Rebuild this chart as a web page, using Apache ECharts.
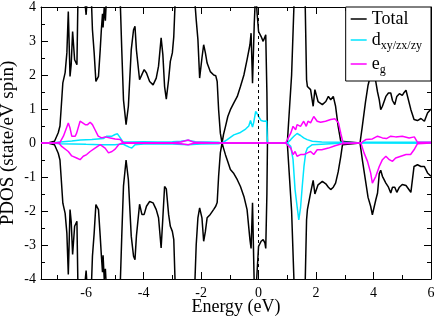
<!DOCTYPE html>
<html><head><meta charset="utf-8">
<script src="https://cdn.jsdelivr.net/npm/echarts@6/dist/echarts.min.js"></script>
<style>html,body{margin:0;padding:0;background:#fff}#c{width:436px;height:319px}</style>
</head><body><div id="c"></div>
<script>
// Energy grid for Total (spin up / spin down)
const totalE = [
 -7.57,-7.3,-7.1,-6.97,-6.91,-6.87,-6.81,-6.73,-6.67,-6.62,
 -6.56,-6.52,-6.47,-6.40,-6.32,-6.28,-6.15,-6.05,-6.0,-5.95,
 -5.85,-5.78,-5.72,-5.66,-5.57,-5.51,-5.47,-5.43,-5.41,-5.37,
 -5.33,-5.28,-5.1,-4.9,-4.81,-4.76,-4.7,-4.61,-4.53,-4.43,
 -4.35,-4.3,-4.25,-4.14,-4.06,-3.98,-3.9,-3.79,-3.67,-3.56,
 -3.48,-3.39,-3.33,-3.27,-3.21,-3.13,-3.07,-3.0,-2.95,-2.9,
 -2.7,-2.4,-2.22,-2.17,-2.11,-2.05,-1.97,-1.91,-1.85,-1.79,
 -1.68,-1.56,-1.49,-1.44,-1.39,-1.33,-1.27,-1.22,-1.15,-1.07,
 -0.98,-0.86,-0.74,-0.63,-0.51,-0.4,-0.3,-0.26,-0.21,-0.15,
 -0.1,-0.05,0.0,0.09,0.16,0.22,0.25,0.29,0.31,1.0,
 1.05,1.15,1.25,1.4,1.55,1.62,1.67,1.7,1.81,1.9,
 1.96,2.07,2.22,2.34,2.43,2.51,2.6,2.68,2.77,2.86,
 2.92,3.53,3.61,3.72,3.81,3.9,3.96,4.08,4.14,4.2,
 4.25,4.31,4.43,4.52,4.6,4.66,4.74,4.81,4.9,5.0,
 5.05,5.13,5.3,5.41,5.53,5.65,5.77,5.88,6.0
];
const totalUp = [
 0,0.01,0.05,0.3,0.5,1.0,1.77,2.07,2.65,3.87,
 1.96,2.3,3.28,2.45,2.3,4.5,5.5,4.2,3.77,4.4,
 5.0,3.33,2.65,1.81,1.96,2.74,3.33,3.8,3.4,4.0,
 3.6,4.5,5.5,5.0,4.1,2.74,1.27,0.54,1.08,2.74,
 3.33,3.43,2.74,1.86,2.01,2.16,2.06,1.81,1.71,1.91,
 2.26,3.09,2.6,1.66,1.29,1.86,2.4,2.65,3.13,4.2,
 5.5,5.5,4.2,3.63,3.04,1.91,2.5,2.89,2.65,2.35,
 2.1,2.0,1.98,1.81,0.98,0.29,0,0.25,0.49,0.78,
 0.98,1.18,1.37,1.66,2.0,2.45,2.89,3.23,1.76,3.5,
 4.5,3.8,3.28,3.13,2.99,2.94,3.18,1.5,0,0,
 0.05,2.0,4.5,6,5,4.2,1.86,1.66,1.57,1.08,
 1.57,1.22,1.13,1.22,1.37,1.27,1.37,1.08,0.49,0.05,
 0,0,0.49,1.2,1.7,2.0,2.3,1.8,1.5,1.27,
 0.98,1.08,1.37,1.47,1.47,1.25,1.13,1.37,1.45,1.4,
 1.47,1.55,0.98,0.69,0.66,0.72,0.64,0.88,1.0
];
const totalDown = [
 0,-0.01,-0.05,-0.3,-0.5,-1.0,-1.77,-2.07,-2.65,-3.87,
 -1.96,-2.3,-3.28,-2.45,-2.3,-4.5,-5.5,-4.2,-3.75,-4.4,
 -5.0,-3.33,-2.65,-1.81,-1.96,-2.74,-3.3,-3.8,-3.3,-4.0,
 -3.7,-4.5,-5.5,-5.0,-4.1,-2.74,-1.27,-0.5,-1.08,-2.74,
 -3.33,-3.43,-2.74,-1.8,-2.1,-2.1,-1.86,-1.72,-1.76,-1.96,
 -2.2,-3.09,-2.2,-1.28,-1.35,-2.1,-2.45,-2.6,-2.84,-4.2,
 -5.5,-5.5,-4.2,-3.0,-2.2,-1.91,-2.2,-2.89,-2.6,-2.2,
 -2.1,-1.95,-1.86,-1.75,-0.98,-0.29,0,-0.15,-0.35,-0.55,
 -0.78,-0.9,-1.08,-1.28,-1.57,-1.96,-2.84,-3.1,-1.76,-4.2,
 -4.5,-4.5,-3.04,-2.89,-2.84,-2.94,-3.1,-1.5,0,0,
 -0.05,-2.0,-4.5,-6,-5,-4.2,-2.26,-1.96,-1.47,-1.1,
 -1.5,-1.23,-1.13,-1.2,-1.3,-1.37,-1.3,-1.18,-0.85,-0.4,
 -0.05,0,-0.49,-1.1,-1.6,-1.86,-2.11,-1.67,-1.47,-0.9,
 -0.8,-0.98,-1.18,-1.3,-1.47,-1.3,-1.3,-1.45,-1.3,-1.22,
 -1.18,-1.25,-1.45,-0.69,-0.64,-0.69,-0.69,-0.88,-0.98
];
// d_xy/zx/zy : [energy, PDOS]
const dUp = [[-7.57,0],[-7.1,0.01],[-6.9,0.03],[-6.5,0.06],[-6.2,0.09],[-5.8,0.1],[-5.4,0.13],[-5.28,0.2],[-5.1,0.2],
 [-4.99,0.25],[-4.91,0.27],[-4.81,0.15],[-4.72,0.03],[-4.5,0.03],[-4.0,0.04],[-3.5,0.03],[-3.0,0.04],[-2.7,0.05],
 [-2.45,0.08],[-2.2,0.04],[-1.8,0.03],[-1.4,0.02],[-1.27,0],[-1.09,0.1],[-0.86,0.24],[-0.63,0.31],[-0.45,0.41],
 [-0.34,0.5],[-0.28,0.66],[-0.21,0.47],[-0.17,0.6],[-0.1,0.93],[-0.05,0.86],[0.0,0.78],[0.09,0.66],[0.18,0.64],
 [0.28,0.65],[0.3,0.6],[0.31,0],[1.0,0],[1.12,0.1],[1.23,0.2],[1.34,0.28],[1.46,0.22],[1.57,0.15],[1.69,0.1],
 [1.87,0.05],[2.2,0.03],[2.9,0.02],[2.95,0],[3.55,0],[3.7,0.02],[6.0,0.02]];
const dDown = [[-7.57,0],[-7.1,-0.01],[-6.9,-0.02],[-6.0,-0.04],[-5.5,-0.05],[-5.0,-0.05],[-4.72,-0.03],[-4.6,-0.08],
 [-4.5,-0.12],[-4.41,-0.15],[-4.3,-0.05],[-4.0,-0.03],[-3.0,-0.03],[-2.45,-0.05],[-2.0,-0.03],[-1.4,-0.02],[-1.27,0],
 [-0.5,-0.01],[0.31,0],[1.0,0],[1.12,-0.1],[1.2,-0.49],[1.27,-1.37],[1.34,-1.86],[1.4,-2.26],[1.46,-1.91],[1.52,-1.28],
 [1.58,-0.69],[1.64,-0.29],[1.7,-0.15],[1.87,-0.05],[2.5,-0.02],[2.95,0],[3.55,0],[6.0,-0.01]];
// e_g : [energy, PDOS]
const egUp = [[-7.57,0],[-7.08,0],[-6.91,0.02],[-6.79,0.2],[-6.62,0.59],[-6.56,0.44],[-6.5,0.2],[-6.44,0.25],[-6.38,0.2],
 [-6.33,0.29],[-6.21,0.64],[-6.12,0.59],[-6.03,0.54],[-5.95,0.54],[-5.86,0.61],[-5.78,0.54],[-5.69,0.39],[-5.58,0.2],
 [-5.46,0.15],[-5.34,0.18],[-5.16,0.15],[-4.99,0.12],[-4.81,0.1],[-4.7,0.01],[-3.0,0.01],[-2.7,0.03],[-2.45,0.09],
 [-2.25,0.02],[-1.27,0],[0.31,0],[0.94,0],[1.12,0.29],[1.2,0.49],[1.29,0.39],[1.34,0.54],[1.46,0.49],[1.57,0.64],
 [1.66,0.49],[1.72,0.64],[1.81,0.59],[1.92,0.78],[2.04,0.64],[2.16,0.61],[2.33,0.64],[2.51,0.69],[2.66,0.71],
 [2.78,0.59],[2.86,0.29],[2.94,0],[3.56,0],[3.73,0.1],[3.96,0.12],[4.14,0.2],[4.31,0.15],[4.45,0.13],[4.6,0.2],
 [4.77,0.18],[5.0,0.2],[5.24,0.15],[5.42,0.18],[5.53,0.02],[6.0,0.02]];
const egDown = [[-7.57,0],[-6.95,0],[-6.85,-0.1],[-6.62,-0.25],[-6.5,-0.38],[-6.33,-0.44],[-6.21,-0.49],[-6.1,-0.39],
 [-5.98,-0.34],[-5.86,-0.25],[-5.69,-0.15],[-5.51,-0.05],[-5.34,-0.15],[-5.22,-0.29],[-5.1,-0.25],[-4.99,-0.18],
 [-4.87,-0.05],[-4.75,0],[-3.0,-0.01],[-2.7,-0.02],[-2.45,-0.05],[-2.25,-0.01],[-1.27,0],[0.94,0],[1.12,-0.15],
 [1.2,-0.34],[1.27,-0.25],[1.34,-0.39],[1.46,-0.34],[1.58,-0.34],[1.7,-0.29],[1.81,-0.25],[1.92,-0.34],[2.04,-0.2],
 [2.2,-0.2],[2.43,-0.15],[2.66,-0.08],[2.9,-0.02],[2.95,0],[3.56,0],[3.67,-0.29],[3.79,-0.54],[3.9,-0.88],
 [3.96,-1.18],[4.08,-0.98],[4.2,-0.69],[4.31,-0.49],[4.43,-0.39],[4.55,-0.49],[4.66,-0.54],[4.77,-0.44],
 [4.95,-0.39],[5.13,-0.34],[5.29,-0.34],[5.41,-0.2],[5.53,-0.02],[6.0,0]];
const xMajor = [-6,-4,-2,0,2,4,6];
const xMinor = [-7,-5,-3,-1,1,3,5];
const xMin = -7.57, xMax = 6, yMin = -4, yMax = 4;

const FONT = 'Liberation Serif';
const chart = echarts.init(document.getElementById('c'), null, {renderer:'canvas'});
const zip = (xs, ys) => xs.map((x, i) => [x, ys[i]]);
const lineSeries = (name, data, color, extra) => Object.assign({
  name, type:'line', data, symbol:'none', showSymbol:false, clip:true,
  lineStyle:{color, width:1.5}, itemStyle:{color}, animation:false, z:2
}, extra || {});
const xBase = {type:'value', min:xMin, max:xMax, splitLine:{show:false}, gridIndex:0};
chart.setOption({
  animation:false,
  grid:{left:41, right:5, top:7, bottom:40, containLabel:false, outerBoundsMode:'none'},
  xAxis:[
    Object.assign({}, xBase, {position:'bottom',
      axisLine:{show:true, onZero:false, lineStyle:{color:'#000', width:1}},
      axisTick:{show:true, inside:true, length:7, customValues:xMajor, lineStyle:{color:'#000'}},
      axisLabel:{show:true, customValues:xMajor, margin:7, color:'#000', fontFamily:FONT, fontSize:14},
      name:'Energy (eV)', nameLocation:'middle', nameGap:19, nameMoveOverlap:false,
      nameTextStyle:{fontFamily:FONT, fontSize:18, color:'#000'}}),
    Object.assign({}, xBase, {position:'bottom',
      axisLine:{show:false, onZero:false},
      axisTick:{show:true, inside:true, length:4, customValues:xMinor, lineStyle:{color:'#000'}},
      axisLabel:{show:false}}),
    Object.assign({}, xBase, {position:'top',
      axisLine:{show:true, onZero:false, lineStyle:{color:'#000', width:1}},
      axisTick:{show:true, inside:true, length:7, customValues:xMajor, lineStyle:{color:'#000'}},
      axisLabel:{show:false}}),
    Object.assign({}, xBase, {position:'top',
      axisLine:{show:false, onZero:false},
      axisTick:{show:true, inside:true, length:4, customValues:xMinor, lineStyle:{color:'#000'}},
      axisLabel:{show:false}})
  ],
  yAxis:[
    {type:'value', min:yMin, max:yMax, interval:1, position:'left',
      axisLine:{show:true, onZero:false, lineStyle:{color:'#000', width:1}},
      axisTick:{show:true, inside:true, length:7, lineStyle:{color:'#000'}},
      minorTick:{show:true, splitNumber:2, length:4, lineStyle:{color:'#000'}},
      splitLine:{show:false},
      axisLabel:{margin:5, color:'#000', fontFamily:FONT, fontSize:14},
      name:'PDOS (state/eV spin)', nameLocation:'middle', nameGap:23, nameRotate:90, nameMoveOverlap:false,
      nameTextStyle:{fontFamily:FONT, fontSize:19, color:'#000'}},
    {type:'value', min:yMin, max:yMax, interval:1, position:'right',
      axisLine:{show:true, onZero:false, lineStyle:{color:'#000', width:1}},
      axisTick:{show:true, inside:true, length:7, lineStyle:{color:'#000'}},
      minorTick:{show:true, splitNumber:2, length:4, lineStyle:{color:'#000'}},
      splitLine:{show:false}, axisLabel:{show:false}}
  ],
  legend:{
    show:true, orient:'vertical', right:5, top:7,
    data:['Total','d','eg'], icon:'rect',
    backgroundColor:'#fff', borderColor:'#000', borderWidth:1, borderRadius:0,
    padding:[3,9,5,5], itemGap:3, itemWidth:16, itemHeight:1.5, itemTextGap:8,
    formatter: n => n === 'Total' ? '{m|Total}' : (n === 'd' ? '{m|d}{s|xy/zx/zy}' : '{m|e}{s|g}'),
    textStyle:{color:'#000', fontFamily:FONT, fontSize:18,
      rich:{m:{fontFamily:FONT, fontSize:18, lineHeight:24, color:'#000'},
            s:{fontFamily:FONT, fontSize:12, lineHeight:10, verticalAlign:'bottom', color:'#000'}}},
    z:10
  },
  series:[
    lineSeries('Total', zip(totalE, totalUp), '#000', {
      markLine:{silent:true, symbol:['none','none'], label:{show:false},
        lineStyle:{color:'#000', width:1, type:[3,3]}, data:[{xAxis:0}], animation:false}
    }),
    lineSeries('Total', zip(totalE, totalDown), '#000'),
    lineSeries('d', dUp, '#00e5ff'),
    lineSeries('d', dDown, '#00e5ff'),
    lineSeries('eg', egUp, '#ff00ff'),
    lineSeries('eg', egDown, '#ff00ff')
  ]
});
</script></body></html>
